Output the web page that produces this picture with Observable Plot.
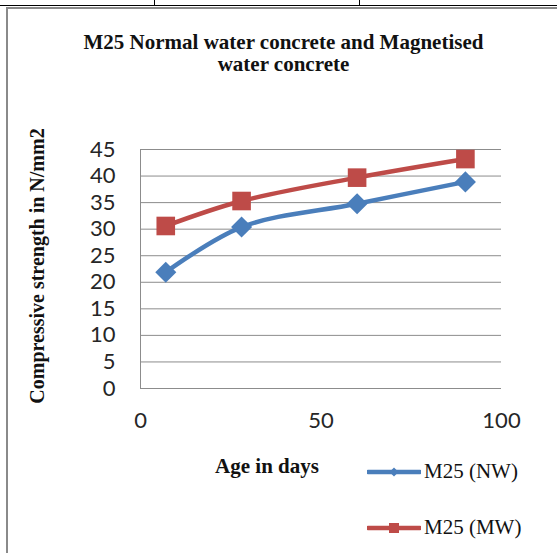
<!DOCTYPE html>
<html>
<head>
<meta charset="utf-8">
<script src="https://cdn.jsdelivr.net/npm/d3@7"></script>
<script src="https://cdn.jsdelivr.net/npm/@observablehq/plot@0.6"></script>
<style>
  html, body { margin: 0; padding: 0; background: #fff; }
  #wrap { position: relative; width: 557px; height: 553px; overflow: hidden; background: #fff; }
  .serif { font-family: "Liberation Serif", "Times New Roman", serif; color: #111; }
  .abs { position: absolute; }
  #plot svg { position: absolute; left: 0; top: 0; overflow: visible; }
</style>
</head>
<body>
<div id="wrap">
  <div class="abs" style="left:0;top:5px;width:557px;height:0;border-top:1.5px solid #000;"></div>
  <div class="abs" style="left:154px;top:0;width:0;height:6px;border-left:1.5px solid #000;"></div>
  <div class="abs" style="left:359px;top:0;width:0;height:6px;border-left:1.5px solid #000;"></div>
  <div class="abs" style="left:6px;top:7px;width:600px;height:600px;border-top:2px solid #8a8a8a;border-left:2.5px solid #8a8a8a;"></div>
  <div id="plot"></div>
  <div id="title" class="abs serif" style="left:0;top:31px;width:567px;text-align:center;font-weight:bold;font-size:21px;line-height:22px;"></div>
  <div id="ylabel" class="abs serif" style="left:37px;top:266px;transform:translate(-50%,-50%) rotate(-90deg);white-space:nowrap;font-weight:bold;font-size:20px;line-height:20px;"></div>
  <div id="xlabel" class="abs serif" style="left:267px;top:456px;transform:translateX(-50%);white-space:nowrap;font-weight:bold;font-size:21px;line-height:21px;"></div>
  <div id="legend"></div>
</div>
<script>
// ---- data ----
const days = [7, 28, 60, 90];
const nwValues = [21.9, 30.4, 34.8, 38.9];
const mwValues = [30.6, 35.3, 39.7, 43.2];
const seriesNames = ["M25 (NW)", "M25 (MW)"];
const yTicks = [0, 5, 10, 15, 20, 25, 30, 35, 40, 45];
const xTicks = [0, 50, 100];
const titleLines = ["M25 Normal water concrete and Magnetised", "water concrete"];
const yLabel = "Compressive strength in N/mm2";
const xLabel = "Age in days";

const blue = "#4A7EBB";
const red = "#BE4B48";

const nw = days.map((d, i) => ({day: d, v: nwValues[i]}));
const mw = days.map((d, i) => ({day: d, v: mwValues[i]}));

document.getElementById("title").innerHTML = titleLines.join("<br>");
document.getElementById("ylabel").textContent = yLabel;
document.getElementById("xlabel").textContent = xLabel;

const chart = Plot.plot({
  width: 557,
  height: 553,
  marginTop: 149,
  marginBottom: 165,
  marginLeft: 140,
  marginRight: 56,
  x: {domain: [0, 100]},
  y: {domain: [0, 45]},
  style: {fontFamily: "Lato, 'Open Sans', sans-serif", background: "transparent", color: "#262626"},
  marks: [
    Plot.gridY(yTicks, {stroke: "#8c8c8c", strokeOpacity: 1, strokeWidth: 1}),
    Plot.ruleX([0], {stroke: "#8c8c8c", strokeWidth: 1}),
    Plot.axisY(yTicks, {tickSize: 0, tickPadding: 25, fontSize: 22, label: null, fill: "#262626"}),
    Plot.axisX(xTicks, {tickSize: 0, tickPadding: 24, fontSize: 22, label: null, fill: "#262626"}),
    Plot.line(nw, {x: "day", y: "v", stroke: blue, strokeWidth: 4.5, curve: "catmull-rom"}),
    Plot.line(mw, {x: "day", y: "v", stroke: red, strokeWidth: 4.5, curve: "catmull-rom"}),
    Plot.dot(nw, {x: "day", y: "v", symbol: "diamond2", r: 9.5, fill: blue, stroke: "none"}),
    Plot.dot(mw, {x: "day", y: "v", symbol: "square", r: 10.5, fill: red, stroke: "none"})
  ]
});
document.getElementById("plot").appendChild(chart);

// legend
const legend = document.getElementById("legend");
const items = [
  {name: seriesNames[0], color: blue, shape: "diamond", top: 472},
  {name: seriesNames[1], color: red, shape: "square", top: 528}
];
for (const it of items) {
  const sw = document.createElement("div");
  sw.className = "abs";
  sw.style.left = "367px";
  sw.style.top = (it.top - 7) + "px";
  const marker = it.shape === "diamond"
    ? '<path d="M27,2.5 L31.5,7 L27,11.5 L22.5,7 Z" fill="' + it.color + '"/>'
    : '<rect x="22" y="2" width="10" height="10" fill="' + it.color + '"/>';
  sw.innerHTML = '<svg width="54" height="14"><line x1="1" y1="7" x2="53" y2="7" stroke="' + it.color + '" stroke-width="4.5" stroke-linecap="round"/>' + marker + '</svg>';
  legend.appendChild(sw);
  const tx = document.createElement("div");
  tx.className = "abs serif";
  tx.style.left = "424px";
  tx.style.top = (it.top - 11) + "px";
  tx.style.fontSize = "21px";
  tx.style.lineHeight = "21px";
  tx.style.whiteSpace = "nowrap";
  tx.textContent = it.name;
  legend.appendChild(tx);
}
</script>
</body>
</html>
